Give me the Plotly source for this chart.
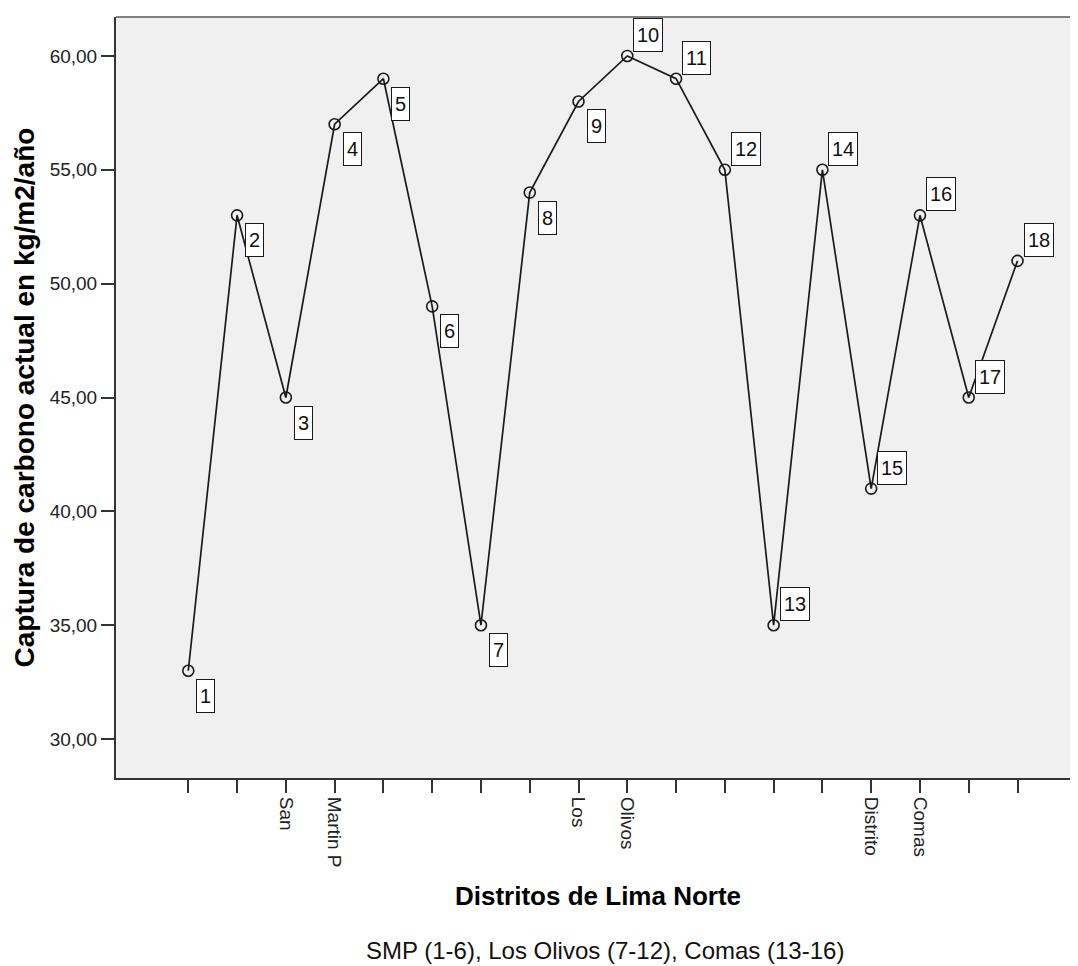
import plotly.graph_objects as go

# ---- data ----
observacion = list(range(1, 19))
captura = [33, 53, 45, 57, 59, 49, 35, 54, 58, 60, 59, 55, 35, 55, 41, 53, 45, 51]
x_ticktext = ["", "", "San", "Martin P", "", "", "", "", "Los", "Olivos",
              "", "", "", "", "Distrito", "Comas", "", ""]
y_tickvals = [30, 35, 40, 45, 50, 55, 60]
point_labels = [str(v) for v in observacion]

FONT = "Liberation Sans, Arial, sans-serif"

fig = go.Figure()
fig.add_trace(go.Scatter(
    x=observacion, y=captura, mode="lines+markers",
    line=dict(color="#1a1a1a", width=1.7),
    marker=dict(symbol="circle-open", size=11, color="#1a1a1a", line=dict(width=1.6)),
    hoverinfo="x+y", showlegend=False,
))

annotations = []
for i, (xv, yv, lab) in enumerate(zip(observacion, captura, point_labels)):
    below = i < 9
    annotations.append(dict(
        x=xv, y=yv, xref="x", yref="y", text=lab, showarrow=False,
        xanchor="left", yanchor="top" if below else "bottom",
        xshift=8 if below else 6, yshift=-8 if below else 4,
        height=26,
        bgcolor="white", bordercolor="#1a1a1a", borderwidth=1, borderpad=3,
        font=dict(family=FONT, size=20, color="#111"),
    ))

annotations += [
    dict(text="<b>Captura de carbono actual en kg/m2/año</b>", x=0, y=0.5,
         xref="paper", yref="paper", xanchor="center", yanchor="middle",
         xshift=-92, textangle=-90, showarrow=False,
         font=dict(family=FONT, size=28, color="#000")),
    dict(text="<b>Distritos de Lima Norte</b>", x=0.501, y=0,
         xref="paper", yref="paper", xanchor="center", yanchor="middle",
         yshift=-118, showarrow=False,
         font=dict(family=FONT, size=26, color="#000")),
    dict(text="SMP (1-6), Los Olivos (7-12), Comas (13-16)", x=0.508, y=0,
         xref="paper", yref="paper", xanchor="center", yanchor="middle",
         yshift=-172, showarrow=False,
         font=dict(family=FONT, size=24, color="#111")),
]

fig.update_layout(
    width=1070, height=958,
    margin=dict(l=108, r=0, t=9, b=188),
    paper_bgcolor="white", plot_bgcolor="#f0f0f0",
    separators=",.",
    annotations=annotations,
    shapes=[dict(type="line", xref="paper", yref="paper", x0=0, x1=1, y0=1, y1=1,
                 line=dict(color="#808080", width=2))],
    font=dict(family=FONT),
)
fig.update_xaxes(
    range=[-0.482, 19.24], tickmode="array", tickvals=observacion, ticktext=x_ticktext,
    tickangle=90, ticks="outside", ticklen=13, tickwidth=1.5, tickcolor="#333",
    showline=True, linecolor="#333", linewidth=2, showgrid=False, zeroline=False,
    tickfont=dict(family=FONT, size=19, color="#222"),
)
fig.update_yaxes(
    range=[28.29, 61.71], tickmode="array", tickvals=y_tickvals, tickformat=".2f",
    ticks="outside", ticklen=13, tickwidth=1.5, tickcolor="#333",
    showline=True, linecolor="#333", linewidth=2, showgrid=False, zeroline=False,
    tickfont=dict(family=FONT, size=19, color="#222"),
)

fig.write_html("out.html")
